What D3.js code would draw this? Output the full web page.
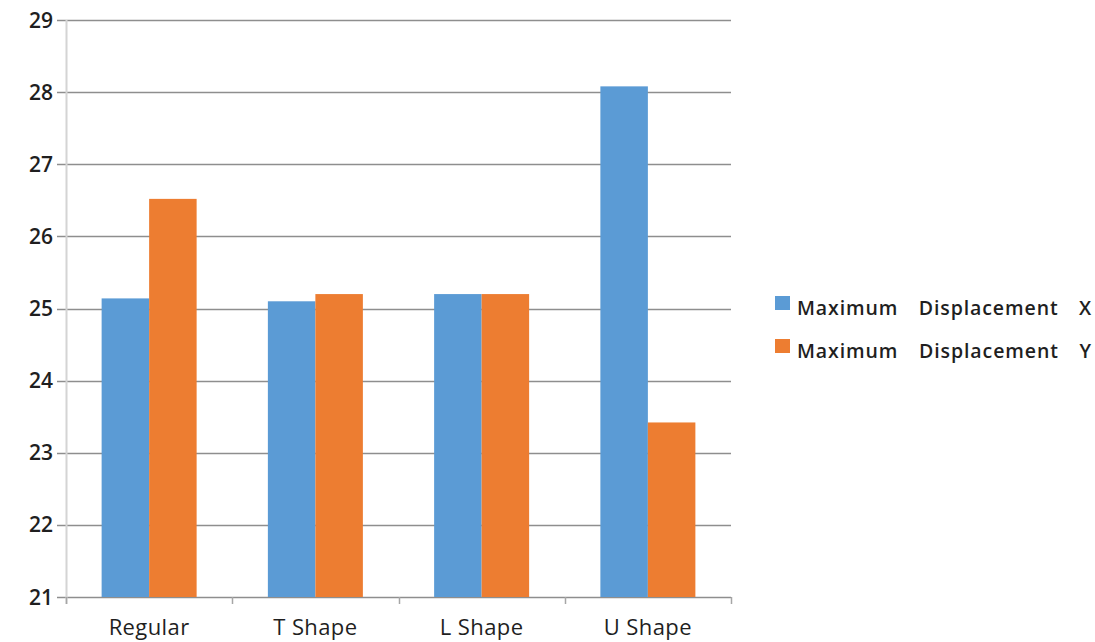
<!DOCTYPE html>
<html>
<head>
<meta charset="utf-8">
<script src="https://cdn.jsdelivr.net/npm/d3@7"></script>
<style>
  html, body { margin: 0; padding: 0; background: #fff; }
  svg { display: block; }
  .tick-y { font-family: "Open Sans", "Noto Sans", sans-serif; font-size: 21px; font-weight: 600; fill: #1f1f1f; }
  .tick-x { font-family: "Open Sans", "Noto Sans", sans-serif; font-size: 22px; fill: #1f1f1f; letter-spacing: 0.4px; }
  .legend-text { font-family: "Open Sans", "Noto Sans", sans-serif; font-size: 19.5px; font-weight: 600; fill: #1f1f1f; letter-spacing: 0.9px; }
</style>
</head>
<body>
<svg id="chart" width="1095" height="642"></svg>
<script>
// Chart data
const categories = ["Regular", "T Shape", "L Shape", "U Shape"];
const seriesNames = ["Maximum Displacement X", "Maximum Displacement Y"];
const dispX = [25.14, 25.10, 25.20, 28.08];
const dispY = [26.52, 25.20, 25.20, 23.42];
const yTicks = [21, 22, 23, 24, 25, 26, 27, 28, 29];
const colors = ["#5B9BD5", "#ED7D31"];

const svg = d3.select("#chart");
const plot = { left: 66, right: 731, top: 20, bottom: 597 };

const y = d3.scaleLinear().domain([21, 29]).range([plot.bottom, plot.top]);
const x0 = d3.scaleBand().domain(categories).range([plot.left, plot.right]).paddingInner(0).paddingOuter(0);
// bars take 2 of 3.5 widths in each category band
const barW = x0.bandwidth() / 3.5;
const x1 = d3.scaleBand().domain([0, 1]).range([barW * 0.75, barW * 2.75]).padding(0);

// Horizontal gridlines (with short tick stubs to the left)
svg.append("g").selectAll("line").data(yTicks).join("line")
  .attr("x1", plot.left - 9).attr("x2", plot.right)
  .attr("y1", d => Math.round(y(d)) + 0.5).attr("y2", d => Math.round(y(d)) + 0.5)
  .attr("stroke", "#8e8e8e").attr("stroke-width", 1.6);

// Vertical axis line
svg.append("line")
  .attr("x1", plot.left + 0.5).attr("x2", plot.left + 0.5)
  .attr("y1", plot.top).attr("y2", plot.bottom + 7)
  .attr("stroke", "#d4d4d4").attr("stroke-width", 2);

// Y tick labels
svg.append("g").selectAll("text").data(yTicks).join("text")
  .attr("class", "tick-y")
  .attr("x", 53).attr("y", d => y(d))
  .attr("dy", "0.36em")
  .attr("text-anchor", "end")
  .text(d => d);

// Category tick marks on the x axis
const boundaries = categories.map(c => x0(c)).concat([x0(categories[categories.length - 1]) + x0.bandwidth()]);
svg.append("g").selectAll("line").data(boundaries).join("line")
  .attr("x1", d => Math.round(d) + 0.5).attr("x2", d => Math.round(d) + 0.5)
  .attr("y1", plot.bottom).attr("y2", plot.bottom + 7)
  .attr("stroke", "#a6a6a6").attr("stroke-width", 1.5);

// Bars
const groups = svg.append("g").selectAll("g").data(categories).join("g")
  .attr("transform", c => `translate(${x0(c)},0)`);
groups.selectAll("rect")
  .data((c, i) => [dispX[i], dispY[i]].map((v, s) => ({ v, s })))
  .join("rect")
  .attr("x", d => x1(d.s))
  .attr("width", x1.bandwidth())
  .attr("y", d => y(d.v))
  .attr("height", d => y(21) - y(d.v))
  .attr("fill", d => colors[d.s]);

// Category labels
svg.append("g").selectAll("text").data(categories).join("text")
  .attr("class", "tick-x")
  .attr("x", c => x0(c) + x0.bandwidth() / 2)
  .attr("y", 635)
  .attr("text-anchor", "middle")
  .text(c => c);

// Legend
const legendWidth = 295;
const legend = svg.append("g").selectAll("g").data(seriesNames).join("g")
  .attr("transform", (d, i) => `translate(775,${296 + i * 43})`);
legend.append("rect").attr("width", 15).attr("height", 14).attr("fill", (d, i) => colors[i]);
legend.append("text")
  .attr("class", "legend-text")
  .attr("x", 22).attr("y", 19)
  .text(d => d)
  .each(function () {
    // widen the gaps between words so each entry spans the legend width
    const t = d3.select(this);
    const w = this.getComputedTextLength();
    const gaps = (t.text().match(/ /g) || []).length;
    if (gaps > 0 && w < legendWidth) t.style("word-spacing", ((legendWidth - w) / gaps) + "px");
  });
</script>
</body>
</html>
